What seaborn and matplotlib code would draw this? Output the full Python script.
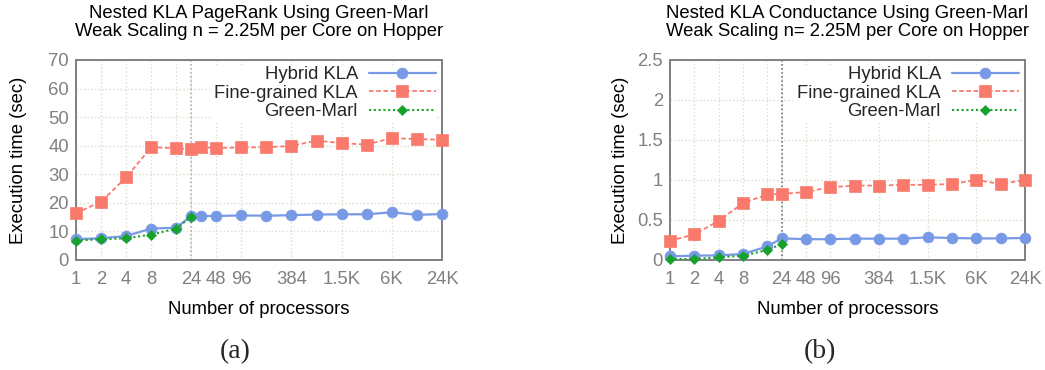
import numpy as np
import pandas as pd
import matplotlib
matplotlib.use("Agg")
import matplotlib.pyplot as plt
import seaborn as sns

# ---------------- data ----------------
procs_a = [1, 2, 4, 8, 16, 24, 32, 48, 96, 192, 384, 768, 1536, 3072, 6144, 12288, 24576]
hybrid_a = [7.3, 7.6, 8.4, 11.0, 11.3, 15.4, 15.4, 15.4, 15.6, 15.5, 15.7, 15.9, 16.0, 16.0, 16.7, 15.8, 16.1]
fine_a = [16.4, 20.4, 28.9, 39.5, 39.1, 38.7, 39.5, 39.2, 39.4, 39.5, 39.9, 41.8, 40.9, 40.4, 42.7, 42.3, 42.1]
gm_procs_a = [1, 2, 4, 8, 16, 24]
gm_a = [6.8, 7.3, 7.6, 8.9, 11.0, 15.2]

procs_b = [1, 2, 4, 8, 16, 24, 48, 96, 192, 384, 768, 1536, 3072, 6144, 12288, 24576]
hybrid_b = [0.046, 0.054, 0.058, 0.075, 0.17, 0.27, 0.26, 0.26, 0.267, 0.267, 0.267, 0.283, 0.275, 0.27, 0.27, 0.275]
fine_b = [0.24, 0.32, 0.49, 0.71, 0.82, 0.825, 0.85, 0.91, 0.93, 0.93, 0.94, 0.94, 0.95, 1.0, 0.95, 1.0]
gm_procs_b = [1, 2, 4, 8, 16, 24]
gm_b = [0.01, 0.013, 0.033, 0.054, 0.125, 0.2]

tick_pos = [1, 2, 4, 8, 16, 24, 48, 96, 384, 1536, 6144, 24576]
tick_lab = ["1", "2", "4", "8", "", "24", "48", "96", "384", "1.5K", "6K", "24K"]

titles = ["Nested KLA PageRank Using Green-Marl\nWeak Scaling n = 2.25M per Core on Hopper",
          "Nested KLA Conductance Using Green-Marl\nWeak Scaling n= 2.25M per Core on Hopper"]
series_names = ["Hybrid KLA", "Fine-grained KLA", "Green-Marl"]
sub_labels = ["(a)", "(b)"]

# ---------------- style ----------------
sns.set_theme(style="white")
plt.rcParams["font.family"] = ["Liberation Sans", "DejaVu Sans"]

C_HY = "#7799e6"
C_FI = "#f97a6c"
C_GM = "#17a22b"
GRID = "#dcdccb"
GRAY = "#808080"
FS = 13.3

fig = plt.figure(figsize=(10.45, 3.70), dpi=100)
ax_a = fig.add_axes([76 / 1045, 110 / 370, 366 / 1045, 200 / 370])
ax_b = fig.add_axes([670 / 1045, 110 / 370, 355 / 1045, 200 / 370])

panels = [
    (ax_a, procs_a, hybrid_a, fine_a, gm_procs_a, gm_a, (0, 70), np.arange(0, 71, 10),
     [str(v) for v in range(0, 71, 10)], "#a8a8a8", 15.5),
    (ax_b, procs_b, hybrid_b, fine_b, gm_procs_b, gm_b, (0, 2.5), np.arange(0, 2.51, 0.5),
     ["0", "0.5", "1", "1.5", "2", "2.5"], "#606060", 6),
]

for i, (ax, px, hy, fi, gx, gm, ylim, yt, ytl, vcol, ylpad) in enumerate(panels):
    df_h = pd.DataFrame({"p": px, "t": hy})
    df_f = pd.DataFrame({"p": px, "t": fi})
    df_g = pd.DataFrame({"p": gx, "t": gm})
    sns.lineplot(data=df_h, x="p", y="t", ax=ax, color=C_HY, marker="o", markersize=7.8,
                 markeredgecolor=C_HY, markeredgewidth=0.5, linewidth=1.6, label=series_names[0],
                 clip_on=False, zorder=5)
    sns.lineplot(data=df_f, x="p", y="t", ax=ax, color=C_FI, marker="s", markersize=8.4,
                 markeredgecolor=C_FI, markeredgewidth=0.5, linewidth=1.3, dashes=(2.5, 1.5),
                 label=series_names[1], clip_on=False, zorder=4)
    sns.lineplot(data=df_g, x="p", y="t", ax=ax, color=C_GM, marker="D", markersize=5.5,
                 markeredgecolor=C_GM, markeredgewidth=0.5, linewidth=1.5, dashes=(1, 1.3),
                 label=series_names[2], clip_on=False, zorder=6)

    ax.set_xscale("log", base=2)
    ax.set_xlim(1, 24576)
    ax.set_ylim(*ylim)
    ax.set_xticks(tick_pos)
    ax.set_xticklabels(tick_lab)
    ax.minorticks_off()
    ax.set_yticks(yt)
    ax.set_yticklabels(ytl)

    ax.grid(True, linestyle=":", color=GRID, linewidth=1.0, zorder=0)
    ax.set_axisbelow(True)
    ax.axvline(24, color=vcol, linestyle=":", linewidth=1.1, zorder=1)

    for s in ax.spines.values():
        s.set_color(GRAY)
        s.set_linewidth(1.4)
    ax.tick_params(axis="both", colors=GRAY, labelcolor=GRAY, labelsize=FS, length=4,
                   width=1.0, direction="in", pad=8)
    ax.tick_params(axis="y", pad=5)

    ax.set_xlabel("Number of processors", fontsize=FS, color="black", labelpad=9)
    ax.set_ylabel("Execution time (sec)", fontsize=FS, color="black", labelpad=ylpad)
    ax.set_title(titles[i], fontsize=FS, color="black", linespacing=1.08, pad=17)

    leg = ax.legend(loc="upper right", markerfirst=False, fontsize=FS, frameon=True,
                    handlelength=3.6, handletextpad=0.6, labelspacing=0.08,
                    borderaxespad=0.25, borderpad=0.1)
    leg.get_frame().set_facecolor("white")
    leg.get_frame().set_edgecolor("none")
    leg.get_frame().set_alpha(1.0)
    leg.set_zorder(10)

fig.text(235 / 1045, 1 - 352 / 370, sub_labels[0], fontsize=20, family="Liberation Serif",
         ha="center", va="center")
fig.text(820 / 1045, 1 - 352 / 370, sub_labels[1], fontsize=20, family="Liberation Serif",
         ha="center", va="center")

fig.savefig("out.png", dpi=100)
